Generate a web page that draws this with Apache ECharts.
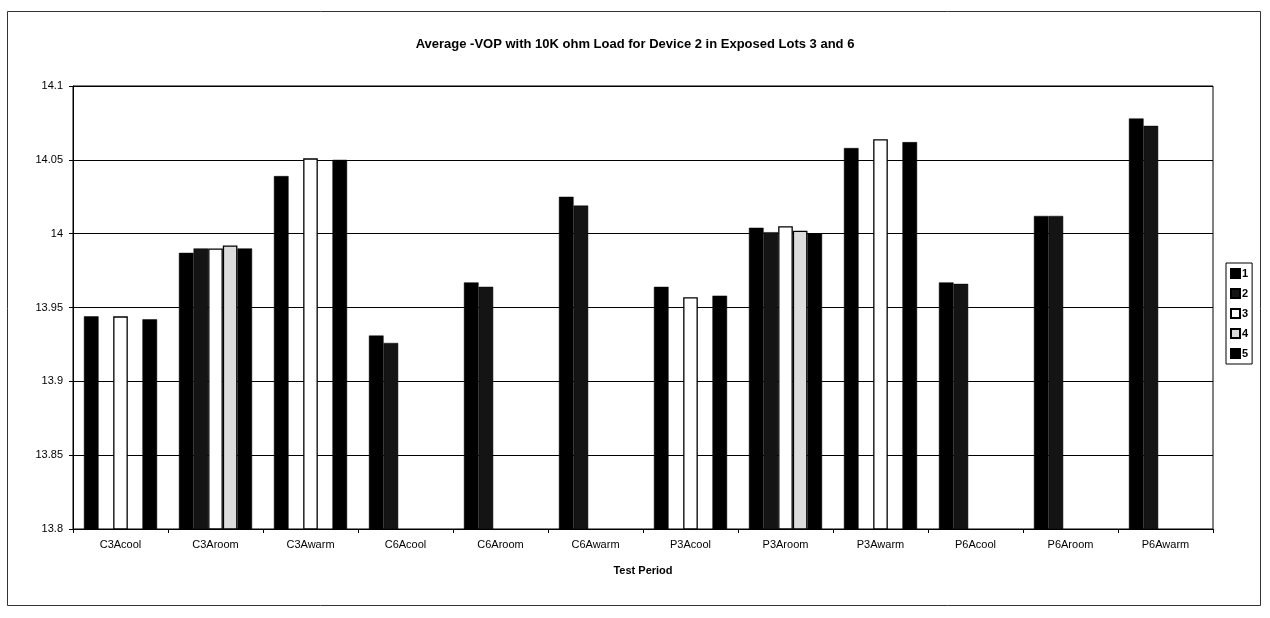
<!DOCTYPE html>
<html>
<head>
<meta charset="utf-8">
<title>Average -VOP with 10K ohm Load</title>
<script src="https://cdn.jsdelivr.net/npm/echarts@6/dist/echarts.min.js"></script>
<style>
    html, body { margin: 0; padding: 0; background: #fff; }
    #vopchart { width: 1270px; height: 618px; }
</style>
</head>
<body>
<div id="vopchart"></div>
<script>
// test periods along the x axis
var categories = ['C3Acool', 'C3Aroom', 'C3Awarm', 'C6Acool', 'C6Aroom', 'C6Awarm',
    'P3Acool', 'P3Aroom', 'P3Awarm', 'P6Acool', 'P6Aroom', 'P6Awarm'];

// average -VOP per sample (null = no bar)
var sample1 = [13.944, 13.987, 14.039, 13.931, 13.967, 14.025, 13.964, 14.004, 14.058, 13.967, 14.012, 14.078];
var sample2 = [null, 13.990, null, 13.926, 13.964, 14.019, null, 14.001, null, 13.966, 14.012, 14.073];
var sample3 = [13.944, 13.990, 14.051, null, null, null, 13.957, 14.005, 14.064, null, null, null];
var sample4 = [null, 13.992, null, null, null, null, null, 14.002, null, null, null, null];
var sample5 = [13.942, 13.990, 14.050, null, null, null, 13.958, 14.000, 14.062, null, null, null];

var seriesNames = ['1', '2', '3', '4', '5'];

// y axis ticks
var yMin = 13.8;
var yMax = 14.1;
var yStep = 0.05;

window.onload = function () {
    var vopchart = echarts.init(document.getElementById('vopchart'));

    var fills = ['#000000', '#141414', '#ffffff', '#dcdcdc', '#000000'];
    var values = [sample1, sample2, sample3, sample4, sample5];

    var series = [];
    for (var i = 0; i < values.length; i++) {
        series.push({
            name: seriesNames[i],
            type: 'bar',
            data: values[i],
            barGap: '0%',
            barCategoryGap: '23%',
            itemStyle: {
                color: fills[i],
                borderColor: '#000',
                borderWidth: (i == 2 || i == 3) ? 1.3 : 0.5
            }
        });
    }

    var option = {
        backgroundColor: '#fff',
        animation: false,
        title: {
            text: 'Average -VOP with 10K ohm Load for Device 2 in Exposed Lots 3 and 6',
            left: 'center',
            top: 38,
            padding: 0,
            textStyle: {
                color: '#000',
                fontFamily: 'Liberation Sans',
                fontSize: 13,
                fontWeight: 'bold'
            }
        },
        legend: {
            data: seriesNames,
            orient: 'vertical',
            icon: 'rect',
            left: 1226,
            top: 263,
            itemWidth: 9,
            itemHeight: 9,
            itemGap: 9,
            padding: [5, 4, 5, 4],
            borderColor: '#000',
            borderWidth: 1,
            textStyle: {
                color: '#000',
                fontFamily: 'Liberation Sans',
                fontSize: 11,
                fontWeight: 'bold',
                padding: [0, 0, 0, -3]
            }
        },
        grid: {
            left: 73,
            top: 86,
            width: 1140,
            height: 443,
            show: true,
            borderColor: '#000',
            borderWidth: 1
        },
        xAxis: [
            {
                type: 'category',
                data: categories,
                name: 'Test Period',
                nameLocation: 'middle',
                nameGap: 36,
                nameTextStyle: {
                    color: '#000',
                    fontFamily: 'Liberation Sans',
                    fontSize: 11,
                    fontWeight: 'bold'
                },
                axisLine: {lineStyle: {color: '#000', width: 1}},
                axisTick: {show: true, length: 4, lineStyle: {color: '#000'}},
                axisLabel: {
                    color: '#000',
                    fontFamily: 'Liberation Sans',
                    fontSize: 11,
                    margin: 10
                }
            }
        ],
        yAxis: [
            {
                type: 'value',
                min: yMin,
                max: yMax,
                interval: yStep,
                axisLine: {show: true, lineStyle: {color: '#000', width: 1}},
                axisTick: {show: true, length: 4, lineStyle: {color: '#000'}},
                splitLine: {show: true, lineStyle: {color: '#000', width: 1}},
                axisLabel: {
                    color: '#000',
                    fontFamily: 'Liberation Sans',
                    fontSize: 11,
                    margin: 10,
                    formatter: function (v) {
                        return String(parseFloat(v.toFixed(2)));
                    }
                }
            }
        ],
        graphic: [
            {
                type: 'rect',
                shape: {x: 7.5, y: 11.5, width: 1253, height: 594},
                style: {fill: 'none', stroke: '#333', lineWidth: 1},
                silent: true
            }
        ],
        series: series
    };
    vopchart.setOption(option);

    window.onresize = vopchart.resize;
};
</script>
</body>
</html>
